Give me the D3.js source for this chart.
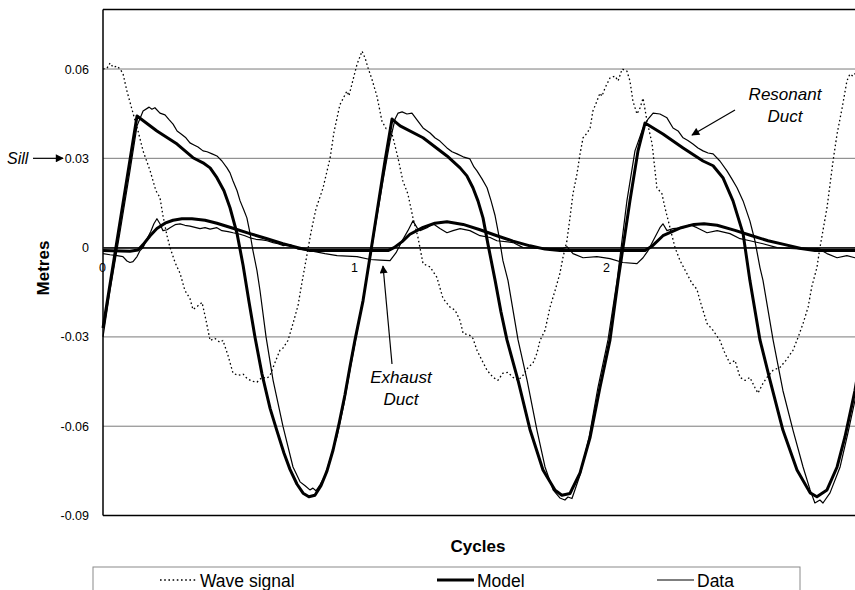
<!DOCTYPE html>
<html>
<head>
<meta charset="utf-8">
<script src="https://cdn.jsdelivr.net/npm/d3@7"></script>
<style>
	body { margin: 0; background: #fff; }
	svg { display: block; font-family: "Liberation Sans", Arial, sans-serif; }
	.tick text { font-size: 12.5px; fill: #000; }
</style>
</head>
<body>
<svg id="chart" width="855" height="590"></svg>
<script>

// Data : [cycle, metres]
var waveSignal = [
	[0.000,0.0600],[0.016,0.0603],[0.028,0.0620],[0.040,0.0606],[0.056,0.0610],[0.067,0.0600],[0.079,0.0586],
	[0.095,0.0526],[0.119,0.0452],[0.139,0.0392],[0.159,0.0325],[0.187,0.0258],[0.210,0.0191],[0.218,0.0180],
	[0.226,0.0168],[0.238,0.0107],[0.254,0.0040],[0.266,0.0000],[0.286,-0.0050],[0.306,-0.0087],[0.325,-0.0144],
	[0.345,-0.0171],[0.357,-0.0208],[0.373,-0.0198],[0.393,-0.0184],[0.409,-0.0245],[0.425,-0.0312],[0.444,-0.0305],
	[0.464,-0.0318],[0.476,-0.0312],[0.496,-0.0362],[0.516,-0.0422],[0.536,-0.0429],[0.556,-0.0425],[0.571,-0.0439],
	[0.591,-0.0449],[0.611,-0.0452],[0.631,-0.0436],[0.651,-0.0439],[0.663,-0.0429],[0.683,-0.0385],[0.702,-0.0345],
	[0.714,-0.0338],[0.734,-0.0312],[0.754,-0.0255],[0.774,-0.0194],[0.786,-0.0134],[0.806,-0.0040],[0.825,0.0050],
	[0.845,0.0130],[0.873,0.0200],[0.901,0.0300],[0.917,0.0390],[0.940,0.0480],[0.968,0.0526],[0.976,0.0510],
	[0.988,0.0550],[1.008,0.0616],[1.028,0.0660],[1.040,0.0637],[1.052,0.0603],[1.067,0.0566],[1.087,0.0509],
	[1.107,0.0425],[1.123,0.0400],[1.139,0.0402],[1.151,0.0369],[1.171,0.0300],[1.190,0.0224],[1.210,0.0180],
	[1.230,0.0100],[1.250,0.0034],[1.270,-0.0054],[1.298,-0.0065],[1.325,-0.0100],[1.349,-0.0170],[1.377,-0.0200],
	[1.397,-0.0210],[1.417,-0.0245],[1.429,-0.0288],[1.456,-0.0295],[1.468,-0.0305],[1.484,-0.0345],[1.504,-0.0379],
	[1.524,-0.0412],[1.548,-0.0436],[1.567,-0.0446],[1.587,-0.0422],[1.607,-0.0419],[1.627,-0.0436],[1.647,-0.0446],
	[1.667,-0.0429],[1.687,-0.0402],[1.706,-0.0389],[1.722,-0.0355],[1.734,-0.0312],[1.754,-0.0278],[1.774,-0.0200],
	[1.794,-0.0144],[1.813,-0.0087],[1.825,-0.0034],[1.841,0.0023],[1.853,0.0100],[1.865,0.0181],[1.881,0.0248],
	[1.893,0.0315],[1.905,0.0369],[1.921,0.0385],[1.933,0.0402],[1.944,0.0459],[1.960,0.0492],[1.972,0.0519],
	[1.980,0.0509],[1.992,0.0536],[2.012,0.0570],[2.032,0.0576],[2.044,0.0560],[2.060,0.0600],[2.079,0.0593],
	[2.091,0.0560],[2.103,0.0492],[2.119,0.0449],[2.131,0.0469],[2.143,0.0502],[2.159,0.0425],[2.179,0.0348],
	[2.198,0.0201],[2.218,0.0181],[2.230,0.0134],[2.250,0.0067],[2.270,0.0000],[2.290,-0.0044],[2.317,-0.0087],
	[2.337,-0.0120],[2.357,-0.0140],[2.369,-0.0178],[2.397,-0.0255],[2.421,-0.0278],[2.448,-0.0312],[2.468,-0.0355],
	[2.488,-0.0389],[2.508,-0.0379],[2.528,-0.0436],[2.548,-0.0446],[2.567,-0.0436],[2.587,-0.0470],[2.599,-0.0489],
	[2.619,-0.0456],[2.635,-0.0436],[2.659,-0.0412],[2.687,-0.0402],[2.710,-0.0379],[2.738,-0.0345],[2.758,-0.0302],
	[2.778,-0.0255],[2.798,-0.0200],[2.813,-0.0130],[2.833,-0.0067],[2.845,0.0000],[2.873,0.0134],[2.897,0.0291],
	[2.913,0.0382],[2.933,0.0469],[2.952,0.0560],[2.964,0.0583],[2.976,0.0576],[3.000,0.0600]
];

var modelResonant = [
	[0.000,-0.0270],[0.135,0.0442],[0.214,0.0392],[0.294,0.0348],[0.357,0.0302],[0.397,0.0285],[0.425,0.0268],
	[0.452,0.0235],[0.480,0.0191],[0.504,0.0134],[0.532,0.0047],[0.556,-0.0060],[0.579,-0.0180],[0.603,-0.0300],
	[0.631,-0.0425],[0.663,-0.0540],[0.690,-0.0615],[0.718,-0.0690],[0.742,-0.0745],[0.770,-0.0795],[0.794,-0.0825],
	[0.817,-0.0837],[0.841,-0.0832],[0.865,-0.0800],[0.889,-0.0750],[0.913,-0.0680],[0.937,-0.0590],[0.960,-0.0495],
	[0.980,-0.0400],[1.000,-0.0310],[1.032,-0.0178],[1.079,0.0074],[1.119,0.0291],[1.147,0.0432],[1.179,0.0409],
	[1.270,0.0369],[1.365,0.0308],[1.417,0.0268],[1.444,0.0241],[1.468,0.0201],[1.488,0.0157],[1.508,0.0100],
	[1.528,0.0010],[1.556,-0.0110],[1.579,-0.0215],[1.603,-0.0310],[1.647,-0.0446],[1.694,-0.0610],[1.746,-0.0747],
	[1.794,-0.0815],[1.821,-0.0832],[1.853,-0.0826],[1.893,-0.0757],[1.933,-0.0637],[1.972,-0.0470],[2.012,-0.0310],
	[2.044,-0.0110],[2.091,0.0157],[2.123,0.0325],[2.151,0.0419],[2.222,0.0382],[2.302,0.0335],[2.381,0.0291],
	[2.421,0.0275],[2.460,0.0235],[2.500,0.0157],[2.540,0.0047],[2.567,-0.0110],[2.607,-0.0310],[2.647,-0.0446],
	[2.698,-0.0613],[2.754,-0.0747],[2.806,-0.0824],[2.833,-0.0837],[2.873,-0.0814],[2.913,-0.0737],[2.944,-0.0637],
	[2.984,-0.0480],[3.000,-0.0400]
];

var dataResonant = [
	[0.000,-0.0300],[0.028,-0.0144],[0.067,0.0050],[0.107,0.0258],[0.135,0.0409],[0.159,0.0459],[0.183,0.0472],
	[0.194,0.0465],[0.206,0.0470],[0.226,0.0452],[0.246,0.0446],[0.262,0.0430],[0.278,0.0415],[0.294,0.0392],
	[0.310,0.0382],[0.329,0.0369],[0.345,0.0352],[0.361,0.0345],[0.377,0.0338],[0.397,0.0325],[0.413,0.0322],
	[0.433,0.0315],[0.452,0.0308],[0.472,0.0291],[0.492,0.0268],[0.504,0.0251],[0.516,0.0224],[0.532,0.0191],
	[0.544,0.0157],[0.560,0.0124],[0.571,0.0100],[0.583,0.0050],[0.595,-0.0010],[0.611,-0.0077],[0.623,-0.0144],
	[0.647,-0.0300],[0.675,-0.0446],[0.714,-0.0600],[0.754,-0.0737],[0.782,-0.0787],[0.802,-0.0800],[0.821,-0.0814],
	[0.833,-0.0808],[0.845,-0.0817],[0.861,-0.0797],[0.881,-0.0767],[0.900,-0.0714],[0.929,-0.0633],[0.956,-0.0526],
	[0.980,-0.0412],[1.000,-0.0322],[1.020,-0.0228],[1.052,-0.0077],[1.079,0.0064],[1.111,0.0224],[1.139,0.0358],
	[1.159,0.0432],[1.171,0.0452],[1.187,0.0456],[1.206,0.0449],[1.226,0.0452],[1.246,0.0429],[1.270,0.0402],
	[1.298,0.0385],[1.317,0.0369],[1.337,0.0358],[1.365,0.0335],[1.385,0.0322],[1.405,0.0315],[1.429,0.0305],
	[1.456,0.0298],[1.472,0.0271],[1.484,0.0258],[1.504,0.0231],[1.524,0.0201],[1.540,0.0157],[1.556,0.0107],
	[1.571,0.0040],[1.587,-0.0044],[1.607,-0.0110],[1.647,-0.0310],[1.683,-0.0446],[1.722,-0.0613],[1.754,-0.0737],
	[1.786,-0.0814],[1.813,-0.0841],[1.833,-0.0848],[1.845,-0.0838],[1.861,-0.0843],[1.893,-0.0764],[1.929,-0.0637],
	[1.964,-0.0470],[2.004,-0.0310],[2.040,-0.0110],[2.079,0.0157],[2.111,0.0325],[2.143,0.0402],[2.163,0.0432],
	[2.183,0.0452],[2.210,0.0449],[2.238,0.0436],[2.262,0.0402],[2.282,0.0392],[2.302,0.0369],[2.321,0.0360],
	[2.341,0.0348],[2.361,0.0335],[2.381,0.0325],[2.401,0.0318],[2.421,0.0315],[2.448,0.0291],[2.476,0.0258],
	[2.496,0.0230],[2.516,0.0201],[2.540,0.0157],[2.567,0.0090],[2.587,0.0023],[2.607,-0.0067],[2.619,-0.0110],
	[2.659,-0.0310],[2.698,-0.0480],[2.738,-0.0613],[2.778,-0.0737],[2.806,-0.0814],[2.825,-0.0858],[2.845,-0.0848],
	[2.857,-0.0858],[2.885,-0.0824],[2.925,-0.0737],[2.956,-0.0623],[2.984,-0.0513],[3.000,-0.0440]
];

var modelExhaust = [
	[0.000,-0.0010],[0.107,-0.0012],[0.139,-0.0008],[0.159,0.0010],[0.187,0.0040],[0.214,0.0064],[0.246,0.0082],
	[0.278,0.0092],[0.313,0.0097],[0.353,0.0097],[0.405,0.0092],[0.452,0.0082],[0.516,0.0065],[0.583,0.0047],
	[0.651,0.0030],[0.714,0.0013],[0.774,0.0000],[0.821,-0.0010],[1.131,-0.0010],[1.155,0.0000],[1.187,0.0020],
	[1.218,0.0045],[1.270,0.0068],[1.317,0.0082],[1.365,0.0087],[1.429,0.0078],[1.496,0.0060],[1.563,0.0040],
	[1.627,0.0022],[1.694,0.0006],[1.754,-0.0005],[1.813,-0.0010],[2.151,-0.0010],[2.179,0.0005],[2.222,0.0040],
	[2.294,0.0067],[2.345,0.0078],[2.385,0.0080],[2.437,0.0075],[2.508,0.0058],[2.575,0.0040],[2.639,0.0023],
	[2.706,0.0010],[2.770,-0.0003],[2.825,-0.0010],[3.000,-0.0010]
];

var dataExhaust = [
	[0.000,-0.0020],[0.028,-0.0024],[0.056,-0.0027],[0.079,-0.0030],[0.095,-0.0045],[0.107,-0.0050],[0.119,-0.0047],
	[0.135,-0.0030],[0.147,-0.0010],[0.159,0.0000],[0.175,0.0030],[0.190,0.0055],[0.202,0.0080],[0.214,0.0097],
	[0.226,0.0080],[0.238,0.0057],[0.254,0.0060],[0.266,0.0067],[0.286,0.0077],[0.306,0.0080],[0.325,0.0075],
	[0.345,0.0072],[0.365,0.0068],[0.385,0.0064],[0.405,0.0067],[0.425,0.0062],[0.452,0.0067],[0.472,0.0057],
	[0.496,0.0054],[0.516,0.0050],[0.544,0.0045],[0.563,0.0040],[0.583,0.0033],[0.607,0.0028],[0.631,0.0026],
	[0.651,0.0023],[0.675,0.0017],[0.694,0.0013],[0.714,0.0007],[0.742,0.0010],[0.774,-0.0005],[0.821,-0.0010],
	[0.881,-0.0020],[0.929,-0.0027],[1.008,-0.0030],[1.060,-0.0040],[1.099,-0.0042],[1.139,-0.0044],[1.163,-0.0017],
	[1.187,0.0023],[1.210,0.0057],[1.230,0.0090],[1.246,0.0067],[1.258,0.0057],[1.286,0.0067],[1.310,0.0080],
	[1.337,0.0064],[1.365,0.0050],[1.389,0.0057],[1.417,0.0064],[1.456,0.0057],[1.496,0.0040],[1.536,0.0034],
	[1.563,0.0023],[1.627,0.0017],[1.667,0.0000],[1.734,-0.0003],[1.825,-0.0003],[1.841,0.0003],[1.865,-0.0020],
	[1.905,-0.0034],[1.960,-0.0030],[2.012,-0.0037],[2.063,-0.0050],[2.119,-0.0054],[2.143,-0.0034],[2.163,-0.0010],
	[2.183,0.0023],[2.210,0.0067],[2.222,0.0080],[2.238,0.0057],[2.262,0.0064],[2.302,0.0067],[2.329,0.0077],
	[2.357,0.0067],[2.397,0.0050],[2.437,0.0057],[2.488,0.0047],[2.528,0.0030],[2.567,0.0023],[2.619,0.0013],
	[2.675,0.0000],[2.726,-0.0003],[2.778,-0.0005],[2.837,-0.0003],[2.873,-0.0020],[2.913,-0.0034],[2.952,-0.0027],
	[2.984,-0.0034],[3.000,-0.0030]
];

var yTicks = [0.06, 0.03, 0, -0.03, -0.06, -0.09];
var xTicks = [0, 1, 2];
var legendItems = [
	{ name: "Wave signal", style: "wave" },
	{ name: "Model", style: "model" },
	{ name: "Data", style: "data" }
];

// Layout *****
var svg = d3.select("#chart");
var x = d3.scaleLinear().domain([0, 3]).range([103, 859]);
var y = d3.scaleLinear().domain([-0.09, 0.08]).range([515.5, 9.5]);

var styles = {
	wave:  { width: 1.3, dash: "1.6,2.6" },
	model: { width: 3,   dash: null },
	data:  { width: 1.2, dash: null }
};

var defs = svg.append("defs");
defs.append("marker")
	.attr("id", "head")
	.attr("viewBox", "0 0 10 10")
	.attr("refX", 9).attr("refY", 5)
	.attr("markerWidth", 10).attr("markerHeight", 8)
	.attr("markerUnits", "userSpaceOnUse")
	.attr("orient", "auto")
	.append("path")
	.attr("d", "M0,0 L10,5 L0,10 Z")
	.attr("fill", "#000");

// grid
svg.append("g").selectAll("line")
	.data(yTicks.filter(function(d) { return d > -0.09 })).enter()
	.append("line")
	.attr("x1", x(0)).attr("x2", 855)
	.attr("y1", function(d) { return y(d) })
	.attr("y2", function(d) { return y(d) })
	.style("stroke", "#7a7a7a")
	.style("stroke-width", 1);

// plot frame (top / bottom)
svg.append("line").attr("x1", x(0)).attr("x2", 855).attr("y1", y(0.08)).attr("y2", y(0.08))
	.style("stroke", "#000").style("stroke-width", 1.5);
svg.append("line").attr("x1", x(0)).attr("x2", 855).attr("y1", y(-0.09)).attr("y2", y(-0.09))
	.style("stroke", "#000").style("stroke-width", 1.5);

// axes
var yAxis = svg.append("g")
	.attr("transform", "translate(" + x(0) + ",0)")
	.call(d3.axisLeft(y).tickValues(yTicks).tickSize(0).tickPadding(14)
		.tickFormat(function(d) { return String(d) }));
yAxis.select(".domain").remove();
svg.append("line").attr("x1", x(0)).attr("x2", x(0)).attr("y1", y(0.08)).attr("y2", y(-0.09))
	.style("stroke", "#000").style("stroke-width", 1.5);

var xAxis = svg.append("g")
	.attr("transform", "translate(0," + y(0) + ")")
	.call(d3.axisBottom(x).tickValues(xTicks).tickSize(0).tickPadding(16)
		.tickFormat(function(d) { return String(d) }));
xAxis.select(".domain").style("stroke", "#000").style("stroke-width", 1.5);
xAxis.selectAll(".tick text").attr("dx", "-1px");

// series
var line = d3.line()
	.x(function(d) { return x(d[0]) })
	.y(function(d) { return y(d[1]) });

var series = [
	{ values: waveSignal, style: "wave" },
	{ values: dataResonant, style: "data" },
	{ values: dataExhaust, style: "data" },
	{ values: modelResonant, style: "model" },
	{ values: modelExhaust, style: "model" }
];

svg.append("g").selectAll("path")
	.data(series).enter()
	.append("path")
	.attr("d", function(d) { return line(d.values) })
	.style("fill", "none")
	.style("stroke", "#000")
	.style("stroke-linejoin", "round")
	.style("stroke-width", function(d) { return styles[d.style].width })
	.style("stroke-dasharray", function(d) { return styles[d.style].dash });

// axis titles
svg.append("text")
	.attr("transform", "translate(49,268) rotate(-90)")
	.attr("text-anchor", "middle")
	.style("font-size", "17px").style("font-weight", "bold")
	.text("Metres");

svg.append("text")
	.attr("x", 478).attr("y", 552)
	.attr("text-anchor", "middle")
	.style("font-size", "17px").style("font-weight", "bold")
	.text("Cycles");

// annotations
var notes = [
	{ lines: ["Resonant", "Duct"], x: 785, y: 100, from: [735, 110], to: [692, 135] },
	{ lines: ["Exhaust", "Duct"], x: 401, y: 383, from: [392, 364], to: [383, 266] }
];

notes.forEach(function(n) {
	n.lines.forEach(function(t, i) {
		svg.append("text")
			.attr("x", n.x).attr("y", n.y + i * 22)
			.attr("text-anchor", "middle")
			.style("font-size", "17px").style("font-style", "italic")
			.text(t);
	});
	svg.append("line")
		.attr("x1", n.from[0]).attr("y1", n.from[1])
		.attr("x2", n.to[0]).attr("y2", n.to[1])
		.style("stroke", "#000").style("stroke-width", 1.2)
		.attr("marker-end", "url(#head)");
});

svg.append("text")
	.attr("x", 7).attr("y", y(0.03) + 5.5)
	.style("font-size", "16px").style("font-style", "italic")
	.text("Sill");
svg.append("line")
	.attr("x1", 33).attr("x2", 63)
	.attr("y1", y(0.03)).attr("y2", y(0.03))
	.style("stroke", "#000").style("stroke-width", 1.2)
	.attr("marker-end", "url(#head)");

// legend
svg.append("rect")
	.attr("x", 93).attr("y", 567).attr("width", 707).attr("height", 30)
	.style("fill", "none").style("stroke", "#8a8a8a").style("stroke-width", 1);

var legendX = [160, 437, 657];
var legend = svg.append("g").selectAll("g")
	.data(legendItems).enter()
	.append("g")
	.attr("transform", function(d, i) { return "translate(" + legendX[i] + ",580)" });

legend.append("line")
	.attr("x1", 0).attr("x2", 37)
	.style("stroke", "#000")
	.style("stroke-width", function(d) { return styles[d.style].width })
	.style("stroke-dasharray", function(d) { return styles[d.style].dash });

legend.append("text")
	.attr("x", 40).attr("y", 6.5)
	.style("font-size", "17.5px")
	.text(function(d) { return d.name });

</script>
</body>
</html>
